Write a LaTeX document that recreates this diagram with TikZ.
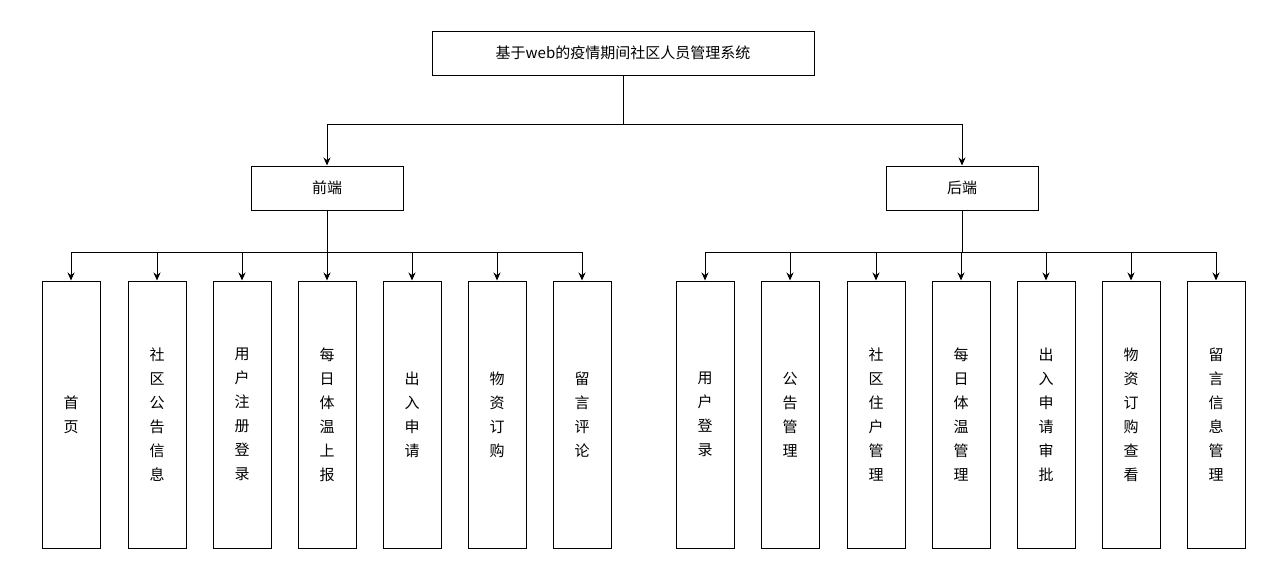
\documentclass[tikz,border=0pt]{standalone}
\usepackage{fontspec}
\setmainfont{Noto Sans CJK SC}
\usetikzlibrary{arrows.meta}
\begin{document}
\begin{tikzpicture}[x=1pt,y=-1pt,
 box/.style={draw,line width=1pt,minimum height=44pt,minimum width=152pt,font=\fontsize{15}{18}\selectfont},
 leaf/.style={draw,line width=1pt,minimum width=58pt,minimum height=267pt,align=center,font=\fontsize{15}{24}\selectfont},
 arr/.style={line width=1pt,-{Stealth[length=8pt,width=7pt]}},
 ln/.style={line width=1pt}]
\useasboundingbox (0,0) rectangle (1264,562);
\node[box,minimum width=382pt] (root) at (623,53) {基于web的疫情期间社区人员管理系统};
\node[box] (f) at (327,188) {前端};
\node[box] (b) at (962,188) {后端};
\coordinate (j) at (623,124);
\draw[ln] (root.south) -- (j);
\draw[arr] (j) -| (f.north);
\draw[arr] (j) -| (b.north);
\coordinate (fj) at (327,252);
\coordinate (bj) at (962,252);
\draw[ln] (f.south) -- (fj);
\draw[ln] (b.south) -- (bj);
\foreach \x/\t/\n in {71/首\\页/l1,157/社\\区\\公\\告\\信\\息/l2,242/用\\户\\注\\册\\登\\录/l3,327/每\\日\\体\\温\\上\\报/l4,412/出\\入\\申\\请/l5,497/物\\资\\订\\购/l6,582/留\\言\\评\\论/l7}{
 \node[leaf] (\n) at (\x,414.5) {\t};
 \draw[arr] (fj) -| (\n.north);
}
\foreach \x/\t/\n in {705/用\\户\\登\\录/r1,790/公\\告\\管\\理/r2,876/社\\区\\住\\户\\管\\理/r3,961/每\\日\\体\\温\\管\\理/r4,1046/出\\入\\申\\请\\审\\批/r5,1131/物\\资\\订\\购\\查\\看/r6,1216/留\\言\\信\\息\\管\\理/r7}{
 \node[leaf] (\n) at (\x,414.5) {\t};
 \draw[arr] (bj) -| (\n.north);
}
\end{tikzpicture}
\end{document}
